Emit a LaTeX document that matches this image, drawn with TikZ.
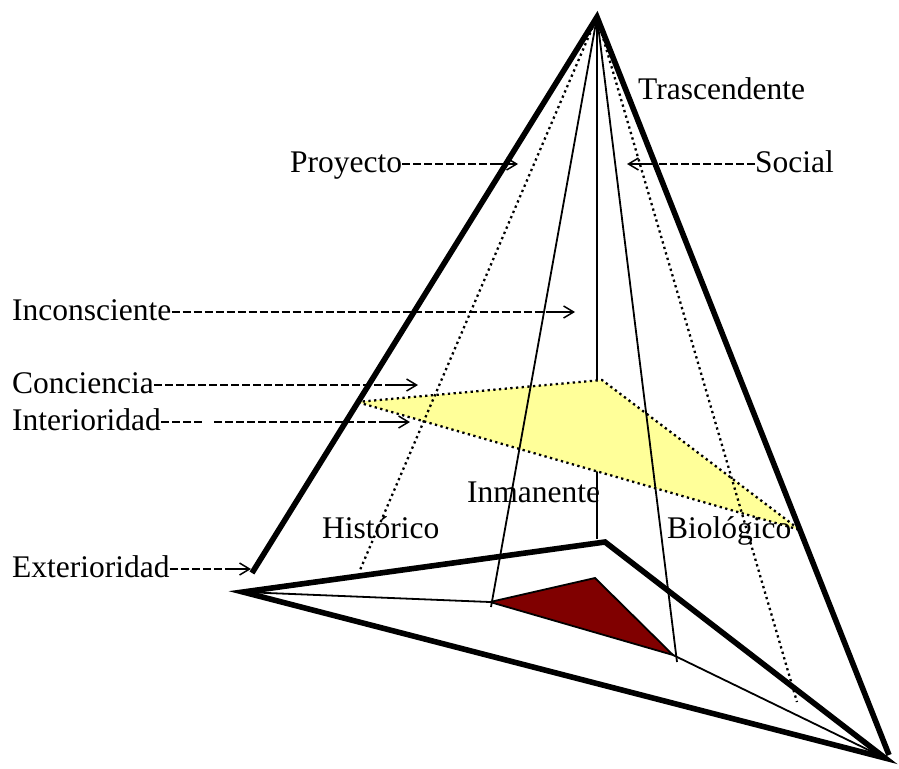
\documentclass[tikz,border=0pt]{standalone}
\usepackage{fontspec}
\setmainfont{Liberation Serif}
\usetikzlibrary{arrows.meta}

\definecolor{paleyellow}{RGB}{255,255,153}
\definecolor{baseRed}{RGB}{128,0,0}

\begin{document}
\begin{tikzpicture}[x=1pt, y=-1pt,
    thickedge/.style={line width=5.6pt, line join=miter},
    thinedge/.style={line width=1.8pt},
    dotedge/.style={line width=2.3pt, dash pattern=on 2.3pt off 3.4pt},
    dashln/.style={line width=1.8pt, dash pattern=on 8pt off 3pt},
    tipln/.style={line width=1.5pt, -{Straight Barb[length=10pt,width=12pt]}}]

\useasboundingbox (0,0) rectangle (899,768);

\coordinate (apex) at (597,17);
\coordinate (L) at (243,592);
\coordinate (T) at (605,542);
\coordinate (B) at (885,758);
\coordinate (lend) at (252,573);
\coordinate (rend) at (889,755);
\coordinate (vfoot) at (597,539);
\coordinate (hdot) at (360,570);
\coordinate (bdot) at (797,702);
\coordinate (y1) at (357,402);
\coordinate (y2) at (602,380);
\coordinate (y3) at (800,530);
\coordinate (r1) at (490,602);
\coordinate (r2) at (595,578);
\coordinate (r3) at (673,655);
\coordinate (lfoot) at (491,607);
\coordinate (rfoot) at (677,662);

\coordinate (proyT) at (518,164);
\coordinate (socT) at (627,164);
\coordinate (inconsT) at (575,312);
\coordinate (concT) at (418,385);
\coordinate (interA) at (203,422);
\coordinate (interB) at (214,422);
\coordinate (interT) at (410,422);
\coordinate (exterT) at (251,569);

\draw[thinedge] (apex) -- (vfoot);
\fill[paleyellow] (y1) -- (y2) -- (y3) -- cycle;

\begin{scope}[dotedge]
    \draw (y1) -- (y2) -- (y3) -- cycle;
    \draw (apex) -- (hdot);
    \draw (apex) -- (bdot);
\end{scope}

\filldraw[baseRed, draw=black, thinedge] (r1) -- (r2) -- (r3) -- cycle;

\begin{scope}[thinedge]
    \draw (apex) -- (lfoot);
    \draw (apex) -- (rfoot);
    \draw (L) -- (r1);
    \draw (r3) -- (B);
\end{scope}

\begin{scope}[thickedge]
    \draw (lend) -- (apex) -- (rend);
    \draw (L) -- (T) -- (B) -- cycle;
\end{scope}

\begin{scope}[every node/.style={anchor=base west, inner sep=0pt, font=\fontsize{31.5}{36}\selectfont}]
    \node (trasc) at (638,99) {Trascendente};
    \node (proy) at (290,172) {Proyecto};
    \node (soc) at (755,172) {Social};
    \node (incons) at (12,320) {Inconsciente};
    \node (conc) at (12,393) {Conciencia};
    \node (inter) at (12,430) {Interioridad};
    \node (exter) at (12,577) {Exterioridad};
    \node (hist) at (322,538) {Histórico};
    \node (inman) at (467,502) {Inmanente};
    \node (biol) at (667,538) {Biológico};
\end{scope}

\draw[dashln] ([yshift=8pt]proy.base east) -- ([xshift=-26pt]proyT);
\draw[tipln] ([xshift=-26pt]proyT) -- (proyT);
\draw[dashln] ([yshift=8pt]soc.base west) -- ([xshift=26pt]socT);
\draw[tipln] ([xshift=26pt]socT) -- (socT);
\draw[dashln] ([yshift=8pt]incons.base east) -- ([xshift=-26pt]inconsT);
\draw[tipln] ([xshift=-26pt]inconsT) -- (inconsT);
\draw[dashln] ([yshift=8pt]conc.base east) -- ([xshift=-26pt]concT);
\draw[tipln] ([xshift=-26pt]concT) -- (concT);
\draw[dashln] ([yshift=8pt]inter.base east) -- (interA);
\draw[dashln] (interB) -- ([xshift=-26pt]interT);
\draw[tipln] ([xshift=-26pt]interT) -- (interT);
\draw[dashln] ([yshift=8pt]exter.base east) -- ([xshift=-26pt]exterT);
\draw[tipln] ([xshift=-26pt]exterT) -- (exterT);

\end{tikzpicture}
\end{document}
